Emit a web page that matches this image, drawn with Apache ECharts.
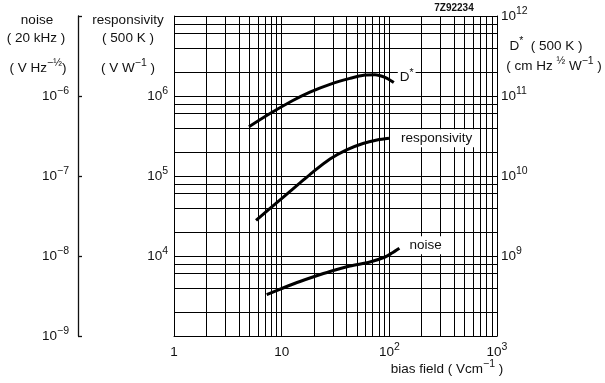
<!DOCTYPE html>
<html><head><meta charset="utf-8">
<script src="https://cdn.jsdelivr.net/npm/echarts/dist/echarts.min.js"></script>
<style>html,body{margin:0;padding:0;background:#fff}#c{width:605px;height:383px}</style>
</head><body><div id="c"></div>
<script>
// ---- data ----
const dstarX = [4.97, 7.79, 12.7, 18.3, 28.1, 43.1, 59.4, 73.6, 91.2, 110];
const dstarY = [4.13e10, 6.04e10, 8.79e10, 1.12e11, 1.40e11, 1.66e11, 1.83e11, 1.85e11, 1.71e11, 1.47e11];
const respX = [5.78, 7.79, 10.3, 14.8, 19.5, 28.1, 39.6, 56.9, 76.8, 99.3];
const respY = [2.78e4, 3.93e4, 5.39e4, 8.18e4, 1.12e5, 1.63e5, 2.11e5, 2.55e5, 2.82e5, 2.96e5];
const noiseX = [7.26, 10.3, 14.8, 19.5, 28.1, 43.1, 66.1, 91.2, 105.9, 124];
const noiseY = [3.30e-9, 3.98e-9, 4.80e-9, 5.46e-9, 6.40e-9, 7.50e-9, 8.41e-9, 9.72e-9, 1.09e-8, 1.25e-8];
// tick labels (values that carry a label)
const xTicks = [1, 10, 100, 1000];
const respTicks = [1e4, 1e5, 1e6];
const dstarTicks = [1e9, 1e10, 1e11, 1e12];
const noiseTicks = [1e-9, 1e-8, 1e-7, 1e-6];
// grid lines of the chart paper
const xGrid = [1,2,3,4,5,6,7,8,9,10,20,30,40,50,60,70,80,90,100,200,300,400,500,600,700,800,900,1000];
const yGrid = [1e3,2e3,4e3,6e3,8e3,1e4,2e4,4e4,6e4,8e4,1e5,2e5,4e5,6e5,8e5,1e6,2e6,4e6,6e6,8e6,1e7];

const FONT = '"Liberation Sans", Arial, Helvetica, sans-serif';
const C = '#111';
const rich = {
  b: { fontSize: 13.5, lineHeight: 20, fontFamily: FONT, color: C, verticalAlign: 'middle' },
  s: { fontSize: 10.5, lineHeight: 10, fontFamily: FONT, color: C, verticalAlign: 'top' }
};
function expLabel(list) {
  return function (v) {
    const hit = list.some(t => Math.abs(Math.log10(t) - Math.log10(v)) < 1e-6);
    if (!hit) return '';
    const e = Math.round(Math.log10(v));
    if (e === 0) return '{b|1}';
    if (e === 1) return '{b|10}';
    return '{b|10}{s|' + String(e).replace('-', '−') + '}';
  };
}
function tx(x, y, text, extra) {
  return { type: 'text', x: x, y: y, silent: true,
    style: Object.assign({ text: text, rich: rich, fill: C, font: '13.5px ' + FONT, align: 'center', verticalAlign: 'middle' }, extra || {}) };
}

const chart = echarts.init(document.getElementById('c'));
chart.setOption({
  animation: false,
  backgroundColor: '#fff',
  grid: { left: 174, right: 108, top: 16, bottom: 47, outerBoundsMode: 'none', containLabel: false },
  xAxis: {
    type: 'log', logBase: 10, min: 1, max: 1000,
    axisLine: { show: true, lineStyle: { color: C, width: 1 } },
    axisTick: { show: false }, splitLine: { show: false },
    axisLabel: { formatter: expLabel(xTicks), rich: rich, margin: 6, color: C, showMinLabel: true, showMaxLabel: true }
  },
  yAxis: [
    { type: 'log', logBase: 10, min: 1e3, max: 1e7, position: 'left',
      axisLine: { show: true, lineStyle: { color: C, width: 1 } },
      axisTick: { show: false }, splitLine: { show: false },
      axisLabel: { formatter: expLabel(respTicks), rich: rich, margin: 6, color: C } },
    { type: 'log', logBase: 10, min: 1e8, max: 1e12, position: 'right',
      axisLine: { show: true, lineStyle: { color: C, width: 1 } },
      axisTick: { show: false }, splitLine: { show: false },
      axisLabel: { formatter: expLabel(dstarTicks), rich: rich, margin: 4, color: C } },
    { type: 'log', logBase: 10, min: 1e-9, max: 1e-5, position: 'left', offset: 96,
      axisLine: { show: true, lineStyle: { color: C, width: 1.3 } },
      axisTick: { show: true, inside: true, length: 4, lineStyle: { color: C, width: 1.3 } },
      splitLine: { show: false },
      axisLabel: { formatter: expLabel(noiseTicks), rich: rich, margin: 9, color: C } }
  ],
  graphic: [
    tx(37, 20, 'noise'),
    tx(36, 38, '( 20 kHz )'),
    tx(38, 68, '{b|( V Hz}{s|−½}{b|)}'),
    tx(128, 20, 'responsivity'),
    tx(128, 38, '( 500 K )'),
    tx(128, 68, '{b|( V W}{s|−1}{b| )}'),
    tx(546, 46, '{b|D}{s|*}{b|  ( 500 K )}'),
    tx(554, 66, '{b|( cm Hz }{s|½}{b| W}{s|−1}{b| )}'),
    tx(454, 8, '7Z92234', { font: 'bold 10px ' + FONT }),
    tx(447, 369, '{b|bias field ( Vcm}{s|−1}{b| )}')
  ],
  series: [
    { type: 'line', name: 'paper', data: [], xAxisIndex: 0, yAxisIndex: 0, z: 1, silent: true,
      markLine: { silent: true, symbol: ['none', 'none'], animation: false,
        label: { show: false }, emphasis: { disabled: true },
        lineStyle: { type: 'solid', color: '#000', width: 1 },
        data: xGrid.map(v => ({ xAxis: v })).concat(yGrid.map(v => ({ yAxis: v }))) } },
    { type: 'line', name: 'D*', xAxisIndex: 0, yAxisIndex: 1, z: 5,
      data: dstarX.map((x, i) => [x, dstarY[i]]), smooth: 0.3, showSymbol: false,
      lineStyle: { color: '#000', width: 3 },
      endLabel: { show: true, formatter: '{b|D}{s|*}', rich: rich, backgroundColor: '#fff', offset: [-4, -5], padding: [0, 2] } },
    { type: 'line', name: 'responsivity', xAxisIndex: 0, yAxisIndex: 0, z: 5,
      data: respX.map((x, i) => [x, respY[i]]), smooth: 0.3, showSymbol: false,
      lineStyle: { color: '#000', width: 3 },
      endLabel: { show: true, formatter: 'responsivity', color: C, fontSize: 13.5, fontFamily: FONT, backgroundColor: '#fff', offset: [2, 0], padding: [2, 2] } },
    { type: 'line', name: 'noise', xAxisIndex: 0, yAxisIndex: 2, z: 5,
      data: noiseX.map((x, i) => [x, noiseY[i]]), smooth: 0.3, showSymbol: false,
      lineStyle: { color: '#000', width: 3 },
      endLabel: { show: true, formatter: 'noise', color: C, fontSize: 13.5, fontFamily: FONT, backgroundColor: '#fff', offset: [0, -3], padding: [2, 2] } }
  ]
});
</script></body></html>
